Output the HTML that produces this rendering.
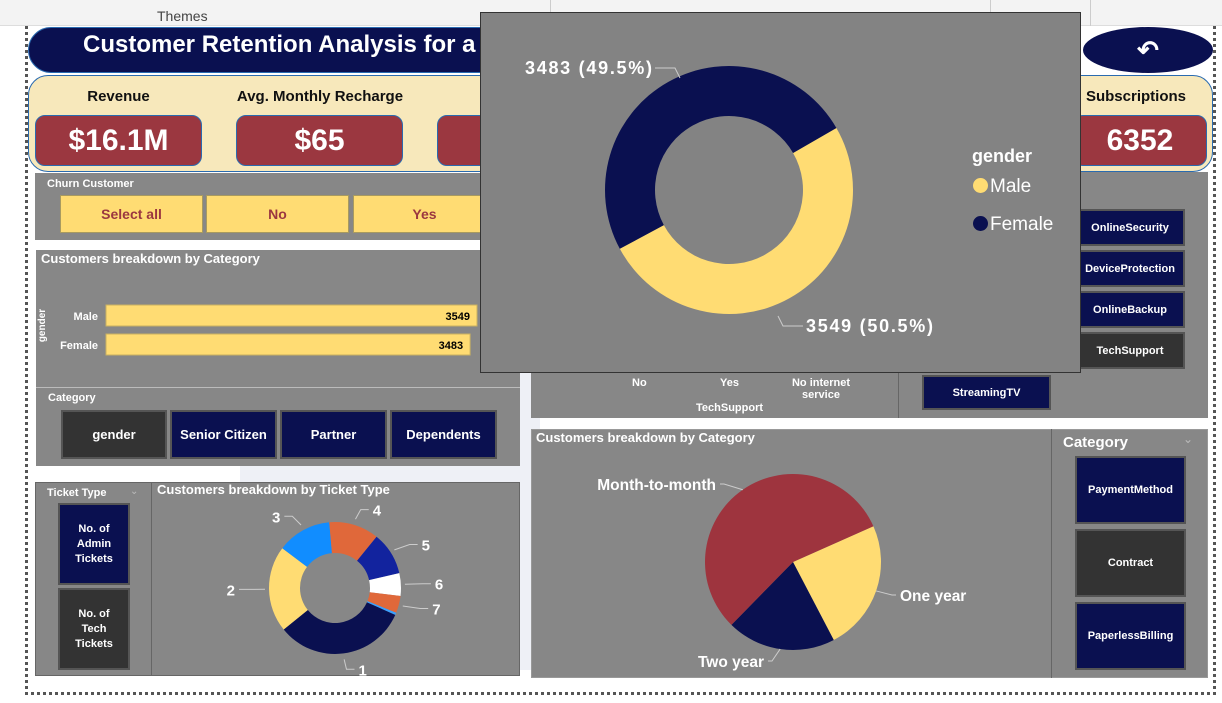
<!DOCTYPE html>
<html><head><meta charset="utf-8">
<style>
*{margin:0;padding:0;box-sizing:border-box}
body{width:1222px;height:703px;position:relative;overflow:hidden;background:#fff;font-family:"Liberation Sans",Arial,sans-serif}
.a{position:absolute}
.b{font-weight:bold}
.btn{position:absolute;display:flex;align-items:center;justify-content:center;text-align:center;color:#fff;font-weight:bold;border:2px solid #555}
.nv{background:#0a1050}
.dk{background:#333}
.panel{position:absolute;background:#878787}
.kc{position:absolute;top:115px;height:51px;background:#9b3740;border:1.5px solid #2a6bb0;border-radius:10px;color:#fff;font-weight:bold;font-size:30px;display:flex;align-items:center;justify-content:center}
.kl{position:absolute;top:88px;font-size:15px;font-weight:bold;color:#111;text-align:center}
.yb{position:absolute;top:195px;height:38px;background:#ffdc73;border:1.5px solid #a89a60;color:#9b3740;font-weight:bold;font-size:14px;display:flex;align-items:center;justify-content:center}
</style></head><body>
<div class="a" style="left:0;top:0;width:1222px;height:26px;background:#f3f3f3;border-bottom:1px solid #ddd"></div>
<div class="a" style="left:157px;top:8px;font-size:14px;color:#444">Themes</div>
<div class="a" style="left:550px;top:0;width:1px;height:14px;background:#ccc"></div>
<div class="a" style="left:990px;top:0;width:1px;height:14px;background:#ccc"></div>
<div class="a" style="left:1090px;top:0;width:1px;height:26px;background:#ccc"></div>
<div class="a" style="left:25px;top:26px;width:1191px;height:669px;border:3px dotted #555;border-top:none"></div>
<div class="a" style="left:240px;top:250px;width:300px;height:420px;background:#eef0f6"></div>
<div class="a" style="left:620px;top:430px;width:420px;height:245px;background:#efe9d8"></div>

<div class="a" style="left:28px;top:27px;width:520px;height:46px;background:#0a1050;border-radius:23px;border:1px solid #2a6bb0"></div>
<div class="a b" style="left:83px;top:31px;font-size:24px;color:#fff">Customer Retention Analysis for a Telecom Company</div>
<div class="a" style="left:1083px;top:27px;width:130px;height:46px;background:#0a1050;border-radius:50%;color:#fff;font-size:26px;font-weight:bold;text-align:center;line-height:46px">&#x21B6;</div>

<div class="a" style="left:28px;top:75px;width:1185px;height:97px;background:#f7e8bb;border:1.5px solid #2a6bb0;border-radius:20px"></div>
<div class="kl" style="left:35px;width:167px">Revenue</div>
<div class="kc" style="left:35px;width:167px">$16.1M</div>
<div class="kl" style="left:220px;width:200px">Avg. Monthly Recharge</div>
<div class="kc" style="left:236px;width:167px">$65</div>
<div class="kc" style="left:437px;width:167px"></div>
<div class="kl" style="left:1000px;width:186px;text-align:right">Total Subscriptions</div>
<div class="kc" style="left:1073px;width:134px">6352</div>

<div class="panel" style="left:35px;top:173px;width:480px;height:67px"></div>
<div class="a b" style="left:47px;top:178px;font-size:11px;color:#fff">Churn Customer</div>
<div class="yb" style="left:60px;width:143px">Select all</div>
<div class="yb" style="left:206px;width:143px">No</div>
<div class="yb" style="left:353px;width:143px">Yes</div>

<div class="panel" style="left:531px;top:172px;width:677px;height:246px"></div>
<div class="a" style="left:898px;top:370px;width:1px;height:48px;background:#666"></div>
<div class="btn nv" style="left:1075px;top:209px;width:110px;height:37px;font-size:11px">OnlineSecurity</div>
<div class="btn nv" style="left:1075px;top:250px;width:110px;height:37px;font-size:11px">DeviceProtection</div>
<div class="btn nv" style="left:1075px;top:291px;width:110px;height:37px;font-size:11px">OnlineBackup</div>
<div class="btn dk" style="left:1075px;top:332px;width:110px;height:37px;font-size:11px">TechSupport</div>
<div class="btn nv" style="left:922px;top:375px;width:129px;height:35px;font-size:11px">StreamingTV</div>
<div class="a b" style="left:632px;top:377px;font-size:11px;color:#fff">No</div>
<div class="a b" style="left:720px;top:377px;font-size:11px;color:#fff">Yes</div>
<div class="a b" style="left:785px;top:377px;width:72px;font-size:11px;color:#fff;text-align:center;line-height:12px">No internet service</div>
<div class="a b" style="left:696px;top:402px;font-size:11px;color:#fff">TechSupport</div>

<div class="panel" style="left:36px;top:250px;width:484px;height:216px"></div>
<div class="a b" style="left:41px;top:251px;font-size:13px;color:#fff">Customers breakdown by Category</div>
<div class="a b" style="left:26px;top:320px;font-size:10px;color:#fff;transform:rotate(-90deg)">gender</div>
<svg class="a" id="barsvg" style="left:0;top:0" width="530" height="470"></svg>
<div class="a" style="left:36px;top:387px;width:484px;height:1px;background:#bbb"></div>
<div class="a b" style="left:48px;top:392px;font-size:11px;color:#fff">Category</div>
<div class="btn dk" style="left:61px;top:410px;width:106px;height:49px;font-size:13px">gender</div>
<div class="btn nv" style="left:170px;top:410px;width:107px;height:49px;font-size:13px">Senior Citizen</div>
<div class="btn nv" style="left:280px;top:410px;width:107px;height:49px;font-size:13px">Partner</div>
<div class="btn nv" style="left:390px;top:410px;width:107px;height:49px;font-size:13px">Dependents</div>

<div class="panel" style="left:35px;top:482px;width:485px;height:194px;border:1px solid #666"></div>
<div class="a" style="left:151px;top:482px;width:1px;height:194px;background:#666"></div>
<div class="a b" style="left:47px;top:487px;font-size:11px;color:#fff">Ticket Type</div>
<div class="a" style="left:130px;top:486px;font-size:10px;color:#bbb">&#8964;</div>
<div class="btn nv" style="left:58px;top:503px;width:72px;height:82px;font-size:11px;line-height:15px">No. of<br>Admin<br>Tickets</div>
<div class="btn dk" style="left:58px;top:588px;width:72px;height:82px;font-size:11px;line-height:15px">No. of<br>Tech<br>Tickets</div>
<div class="a b" style="left:157px;top:482px;font-size:13px;color:#fff">Customers breakdown by Ticket Type</div>
<svg class="a" id="ticketsvg" style="left:0;top:0" width="530" height="700"></svg>

<div class="panel" style="left:531px;top:429px;width:677px;height:249px;border:1px solid #999"></div>
<div class="a" style="left:1051px;top:429px;width:1px;height:249px;background:#666"></div>
<div class="a b" style="left:536px;top:430px;font-size:13px;color:#fff">Customers breakdown by Category</div>
<div class="a b" style="left:1063px;top:434px;font-size:15px;color:#fff">Category</div>
<div class="a" style="left:1183px;top:432px;font-size:12px;color:#bbb">&#8964;</div>
<div class="btn nv" style="left:1075px;top:456px;width:111px;height:68px;font-size:11px">PaymentMethod</div>
<div class="btn dk" style="left:1075px;top:529px;width:111px;height:68px;font-size:11px">Contract</div>
<div class="btn nv" style="left:1075px;top:602px;width:111px;height:68px;font-size:11px">PaperlessBilling</div>
<svg class="a" id="piesvg" style="left:0;top:0" width="1222" height="703"></svg>

<div class="a" style="left:480px;top:12px;width:601px;height:361px;background:#838383;border:1px solid #333"></div>
<svg class="a" id="gsvg" style="left:0;top:0" width="1222" height="703"></svg>
<div class="a b" style="left:972px;top:146px;font-size:18px;color:#fff">gender</div>
<div class="a" style="left:973px;top:176px;font-size:19px;color:#fff"><span style="display:inline-block;width:15px;height:15px;border-radius:50%;background:#ffdc73;vertical-align:-1px;margin-right:2px"></span>Male</div>
<div class="a" style="left:973px;top:214px;font-size:19px;color:#fff"><span style="display:inline-block;width:15px;height:15px;border-radius:50%;background:#0a1050;vertical-align:-1px;margin-right:2px"></span>Female</div>

<script>
const NS="http://www.w3.org/2000/svg";
function mk(svg,tag,at){const e=document.createElementNS(NS,tag);for(const k in at)e.setAttribute(k,at[k]);svg.appendChild(e);return e;}
function arc(cx,cy,r0,r1,a0,a1){const R=Math.PI/180,c=Math.cos,s=Math.sin,l=(a1-a0)>180?1:0;
 const p=(r,a)=>[cx+r*c(a*R),cy+r*s(a*R)];const A=p(r1,a0),B=p(r1,a1);
 if(r0<=0)return `M${cx},${cy}L${A}A${r1},${r1} 0 ${l} 1 ${B}Z`;
 const C=p(r0,a1),D=p(r0,a0);return `M${A}A${r1},${r1} 0 ${l} 1 ${B}L${C}A${r0},${r0} 0 ${l} 0 ${D}Z`;}

// gender bar chart
const barCats=["Male","Female"];
const barVals=[3549,3483];
const bs=document.getElementById('barsvg');
const bx=v=>106+v/3549*371;
barCats.forEach((c,i)=>{const y=305+i*29;
 const r=mk(bs,'rect',{x:106,y:y,width:bx(barVals[i])-106,height:21,fill:'#ffdc73',stroke:'#c8b060'});
 
 const t=mk(bs,'text',{x:98,y:y+15,'text-anchor':'end','font-size':11,'font-weight':'bold',fill:'#fff'});t.textContent=c;
 
 const v=mk(bs,'text',{x:bx(barVals[i])-7,y:y+15,'text-anchor':'end','font-size':11,'font-weight':'bold',fill:'#000'});v.textContent=barVals[i];
 });

// ticket donut
const tCats=["1","2","3","4","5","6","7","8"];
const tVals=[117,76,48,44,38,20,15,2];
const tCols=["#0a1050","#ffdc73","#118dff","#e0683a","#12239e","#ffffff","#e0683a","#3aa0ff"];
const ts=document.getElementById('ticketsvg');
let tt=tVals.reduce((a,b)=>a+b,0),ta=24;
tVals.forEach((v,i)=>{const sw=v/tt*360;
 const p=mk(ts,'path',{d:arc(335,588,35,66,ta,ta+sw),fill:tCols[i]});
 
 if(i<7){const m=(ta+sw/2)*Math.PI/180,cx=Math.cos(m),sy=Math.sin(m);
  const x1=335+70*cx,y1=588+72*sy,x2=335+88*cx,y2=588+82*sy;
  mk(ts,'polyline',{points:`${x1},${y1} ${x2},${y2} ${x2+(cx>0?8:-8)},${y2}`,fill:'none',stroke:'#ccc'});
  const t=mk(ts,'text',{x:x2+(cx>0?12:-12),y:y2+6,'text-anchor':cx>0?'start':'end','font-size':15,'font-weight':'bold',fill:'#fff'});t.textContent=tCats[i];
  }
 ta+=sw;});

// contract pie
const pCats=["One year","Two year","Month-to-month"];
const pVals=[24,20,56];
const pCols=["#ffdc73","#0a1050","#9e343e"];
const ps=document.getElementById('piesvg');
let pt=pVals.reduce((a,b)=>a+b,0),pa=-24;
const pLab=[[898,600,'start'],[766,666,'end'],[718,489,'end']];
pVals.forEach((v,i)=>{const sw=v/pt*360;
 const p=mk(ps,'path',{d:arc(793,562,0,88,pa,pa+sw),fill:pCols[i]});
 
 const m=(pa+sw/2)*Math.PI/180,ex=793+88*Math.cos(m),ey=562+88*Math.sin(m);
 const L=pLab[i];
 mk(ps,'polyline',{points:`${ex},${ey} ${L[0]+(L[2]=='start'?-6:6)},${L[1]-5} ${L[0]+(L[2]=='start'?-2:2)},${L[1]-5}`,fill:'none',stroke:'#ccc'});
 const t=mk(ps,'text',{x:L[0]+(L[2]=='start'?2:-2),y:L[1]+1,'text-anchor':L[2],'font-size':15.5,'font-weight':'bold',fill:'#fff'});t.textContent=pCats[i];
 
 pa+=sw;});

// gender popup donut
const gCats=["Male","Female"];
const gVals=[3549,3483];
const gCols=["#ffdc73","#0a1050"];
const gs=document.getElementById('gsvg');
let gt=gVals.reduce((a,b)=>a+b,0),ga=-30;
gVals.forEach((v,i)=>{const sw=v/gt*360;
 const p=mk(gs,'path',{d:arc(729,190,74,124,ga,ga+sw),fill:gCols[i]});
 
 ga+=sw;});
const gLab=[[806,332,'start',778,316],[652,74,'end',680,78]];
gVals.forEach((v,i)=>{const L=gLab[i];
 mk(gs,'polyline',{points:`${L[3]},${L[4]} ${L[3]+(L[2]=='start'?5:-5)},${L[1]-6} ${L[0]+(L[2]=='start'?-3:3)},${L[1]-6}`,fill:'none',stroke:'#ccc'});
 const t=mk(gs,'text',{x:L[0],y:L[1],'text-anchor':L[2],'font-size':18,'font-weight':'bold',fill:'#fff','textLength':127});
 t.textContent=v+' ('+(v/gt*100).toFixed(1)+'%)';
 });
</script>
</body></html>
